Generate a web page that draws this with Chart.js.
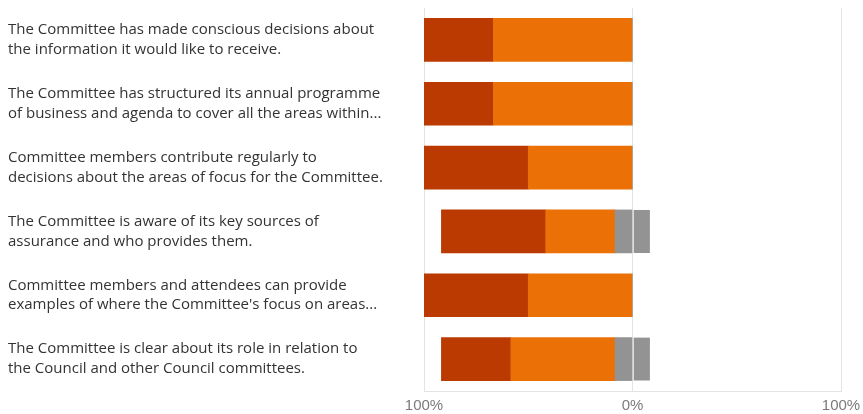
<!DOCTYPE html>
<html>
<head>
<meta charset="utf-8">
<script src="https://cdn.jsdelivr.net/npm/chart.js@4"></script>
<style>
  html, body { margin: 0; padding: 0; background: #fff; }
  #wrap { width: 863px; height: 414px; }
</style>
</head>
<body>
<div id="wrap"><canvas id="myChart" width="863" height="414"></canvas></div>
<script>
// statements, already wrapped onto two lines
const statements = [
    ['The Committee has made conscious decisions about', 'the information it would like to receive.'],
    ['The Committee has structured its annual programme', 'of business and agenda to cover all the areas within...'],
    ['Committee members contribute regularly to', 'decisions about the areas of focus for the Committee.'],
    ['The Committee is aware of its key sources of', 'assurance and who provides them.'],
    ['Committee members and attendees can provide', "examples of where the Committee's focus on areas..."],
    ['The Committee is clear about its role in relation to', 'the Council and other Council committees.']
];

// share of answers per statement, in %
const stronglyAgree = [33.3, 33.3, 50, 50, 50, 33.3];
const agree = [66.7, 66.7, 50, 33.3, 50, 50];
const neutral = [0, 0, 0, 16.7, 0, 16.7];

const axisTicks = [-100, 0, 100];

const labelFont = '"Open Sans", "Noto Sans", sans-serif';

function diverging_chart() {
    const ctx = document.getElementById('myChart');

    // neutral is split in half around zero, agree side goes left
    const neutralLeft = neutral.map(v => -v / 2);
    const neutralRight = neutral.map(v => v / 2);

    new Chart(ctx, {
        type: 'bar',
        data: {
            labels: statements,
            datasets: [
                {
                    label: 'Neutral',
                    data: neutralLeft,
                    backgroundColor: '#939393',
                    borderWidth: 0
                },
                {
                    label: 'Agree',
                    data: agree.map(v => -v),
                    backgroundColor: '#eb7107',
                    borderWidth: 0
                },
                {
                    label: 'Strongly agree',
                    data: stronglyAgree.map(v => -v),
                    backgroundColor: '#ba3a02',
                    borderWidth: 0
                },
                {
                    label: 'Neutral ',
                    data: neutralRight,
                    backgroundColor: '#939393',
                    borderColor: '#ffffff',
                    borderSkipped: false,
                    borderWidth: { left: 1, right: 0, top: 0, bottom: 0 }
                }
            ]
        },
        options: {
            responsive: false,
            animation: false,
            indexAxis: 'y',
            barThickness: 43,
            layout: {
                padding: { left: 8, top: 8, right: 0, bottom: 0 }
            },
            plugins: {
                legend: { display: false },
                tooltip: { enabled: false }
            },
            scales: {
                x: {
                    stacked: true,
                    min: -100,
                    max: 100,
                    afterBuildTicks: axis => {
                        axis.ticks = axisTicks.map(v => ({ value: v }));
                    },
                    afterFit: axis => {
                        axis.height = 23;
                        axis.paddingLeft = 0;
                        axis.paddingRight = 22;
                    },
                    grid: {
                        color: '#e3e3e3',
                        drawTicks: false
                    },
                    border: { display: true, color: '#e3e3e3' },
                    ticks: {
                        padding: 6,
                        color: '#7a7a7a',
                        font: { family: '"Liberation Sans", Arial, sans-serif', size: 15 },
                        callback: v => Math.abs(v) + '%'
                    }
                },
                y: {
                    stacked: true,
                    grid: { display: false, drawTicks: false },
                    border: { display: false },
                    afterFit: axis => {
                        axis.width = 416;
                        axis.paddingTop = 0;
                        axis.paddingBottom = 0;
                    },
                    ticks: {
                        crossAlign: 'far',
                        padding: 0,
                        color: '#333333',
                        font: { family: labelFont, size: 15, lineHeight: 1.33 }
                    }
                }
            }
        }
    });
}

diverging_chart();
</script>
</body>
</html>
